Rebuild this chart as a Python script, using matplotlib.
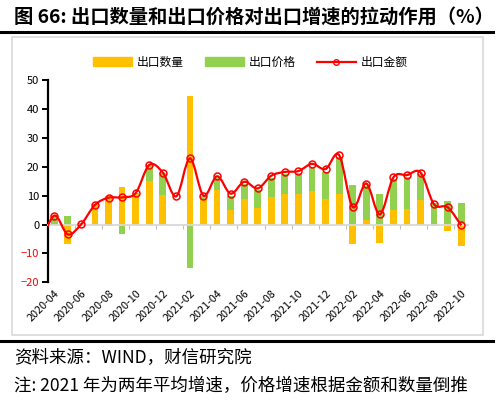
import numpy as np
import matplotlib
matplotlib.use("Agg")
import matplotlib.pyplot as plt
from matplotlib.path import Path
from matplotlib.patches import PathPatch, Patch, Rectangle
from matplotlib.lines import Line2D

plt.rcParams['font.family'] = ['Noto Sans CJK SC', 'DejaVu Sans']

# 月份（首个 2020-03 只用于折线起点，落在坐标区外）
months = ['2020-03', '2020-04', '2020-05', '2020-06', '2020-07', '2020-08', '2020-09',
          '2020-10', '2020-11', '2020-12', '2021-01', '2021-02', '2021-03', '2021-04',
          '2021-05', '2021-06', '2021-07', '2021-08', '2021-09', '2021-10', '2021-11',
          '2021-12', '2022-01', '2022-02', '2022-03', '2022-04', '2022-05', '2022-06',
          '2022-07', '2022-08', '2022-09', '2022-10']

quantity = [np.nan, -0.3, -6.6, 0.2, 6.8, 9.8, 13.0, 10.7, 15.0, 10.2, np.nan, 44.4,
            9.0, 12.1, 5.2, 8.9, 5.7, 9.6, 10.5, 10.5, 11.5, 8.7, 10.4, -6.8, 1.5,
            -6.4, 5.0, 5.3, 8.4, -0.4, -2.3, -7.3]

price = [np.nan, 3.0, 3.0, 0.3, 0.3, -0.6, -3.1, 0.2, 5.5, 7.6, np.nan, -14.9,
         0.9, 3.9, 4.7, 5.1, 6.1, 6.6, 7.0, 7.2, 8.5, 9.6, 12.8, 13.6, 12.0,
         10.4, 10.9, 11.3, 9.1, 7.4, 8.1, 7.3]

amount = [-6.6, 3.1, -3.4, 0.2, 6.8, 9.3, 9.4, 10.9, 20.6, 18.0, 9.8, 22.9,
          10.0, 16.7, 10.7, 14.8, 12.5, 16.9, 18.2, 18.5, 21.0, 19.2, 24.0, 6.1,
          14.2, 3.5, 16.3, 17.1, 18.0, 7.0, 6.0, -0.3]

C_Q = '#FFC000'
C_P = '#92D050'
C_A = '#FF0000'

x = np.arange(len(months))
q = np.array(quantity, dtype=float)
p = np.array(price, dtype=float)
a = np.array(amount, dtype=float)

# 正负分开堆叠（与 Excel 一致）
p_bottom = np.where(np.sign(q) == np.sign(p), q, 0.0)

fig = plt.figure(figsize=(5, 4.04), dpi=100)
ax = fig.add_axes([0.095, 0.301, 0.841, 0.501])

ax.bar(x, q, width=0.5, color=C_Q, zorder=2)
ax.bar(x, p, width=0.5, bottom=p_bottom, color=C_P, zorder=2)

# 平滑折线：用三次贝塞尔曲线连接各点
pts = np.column_stack([x, a])
ext = np.vstack([pts[0], pts, pts[-1]])
verts = [tuple(pts[0])]
codes = [Path.MOVETO]
for i in range(len(pts) - 1):
    p0, p1, p2, p3 = ext[i], ext[i + 1], ext[i + 2], ext[i + 3]
    c1 = p1 + (p2 - p0) / 6.0
    c2 = p2 - (p3 - p1) / 6.0
    verts += [tuple(c1), tuple(c2), tuple(p2)]
    codes += [Path.CURVE4] * 3
ax.add_patch(PathPatch(Path(verts, codes), facecolor='none', edgecolor=C_A,
                       lw=1.6, zorder=3))
ax.plot(x, a, 'o', ls='none', mfc='none', mec=C_A, ms=5, mew=1.1, zorder=4)

ax.set_xlim(0.5, len(months) - 0.5)
ax.set_ylim(-20, 50)
ax.set_yticks(range(-20, 51, 10))

# 0 轴作为类别轴
ax.spines['bottom'].set_position(('data', 0))
ax.spines['bottom'].set_color('#D9D9D9')
ax.spines['bottom'].set_linewidth(1.3)
ax.spines['top'].set_visible(False)
ax.spines['right'].set_visible(False)
ax.spines['left'].set_linewidth(1.6)
ax.set_xticks(np.arange(2.5, len(months) - 1, 2))
ax.tick_params(axis='x', length=3, width=0.8, color='#BFBFBF', labelbottom=False)
ax.tick_params(axis='y', length=4, width=1.4, labelsize=8, pad=2)
for lab in ax.get_yticklabels():
    if float(lab.get_text().replace('−', '-')) < 0:
        lab.set_color('red')

# 底部日期标签
sec = ax.secondary_xaxis('bottom')
sec.spines['bottom'].set_visible(False)
sec.set_xticks(x[1::2])
sec.set_xticklabels(months[1::2], rotation=45, ha='right', rotation_mode='anchor',
                    fontsize=7.8)
sec.tick_params(length=0, pad=4)

handles = [Patch(color=C_Q), Patch(color=C_P),
           Line2D([], [], color=C_A, lw=1.6, marker='o', mfc='none', mec=C_A, ms=4)]
fig.legend(handles, ['出口数量', '出口价格', '出口金额'], ncol=3, frameon=False,
           loc='center', bbox_to_anchor=(0.5, 0.846), fontsize=8.5,
           handlelength=3.3, handletextpad=0.4, columnspacing=1.8)

# 图框与标题
fig.patches.append(Rectangle((12 / 500, 1 - 335 / 404), 471 / 500, 298 / 404,
                             transform=fig.transFigure, fill=False,
                             edgecolor='#D9D9D9', lw=1.2))
fig.add_artist(Line2D([0, 493 / 500], [1 - 31.5 / 404] * 2, color='black', lw=2.2))
fig.add_artist(Line2D([0, 493 / 500], [1 - 341 / 404] * 2, color='black', lw=2.2))
fig.text(14 / 500, 1 - 17 / 404, '图 66: 出口数量和出口价格对出口增速的拉动作用（%）',
         fontsize=13.9, fontweight='bold', va='center', ha='left')
fig.text(14 / 500, 1 - 358 / 404, '资料来源：WIND，财信研究院',
         fontsize=12.6, va='center', ha='left')
fig.text(14 / 500, 1 - 386 / 404, '注: 2021 年为两年平均增速，价格增速根据金额和数量倒推',
         fontsize=12.6, va='center', ha='left')

fig.savefig('out.png', dpi=100)
